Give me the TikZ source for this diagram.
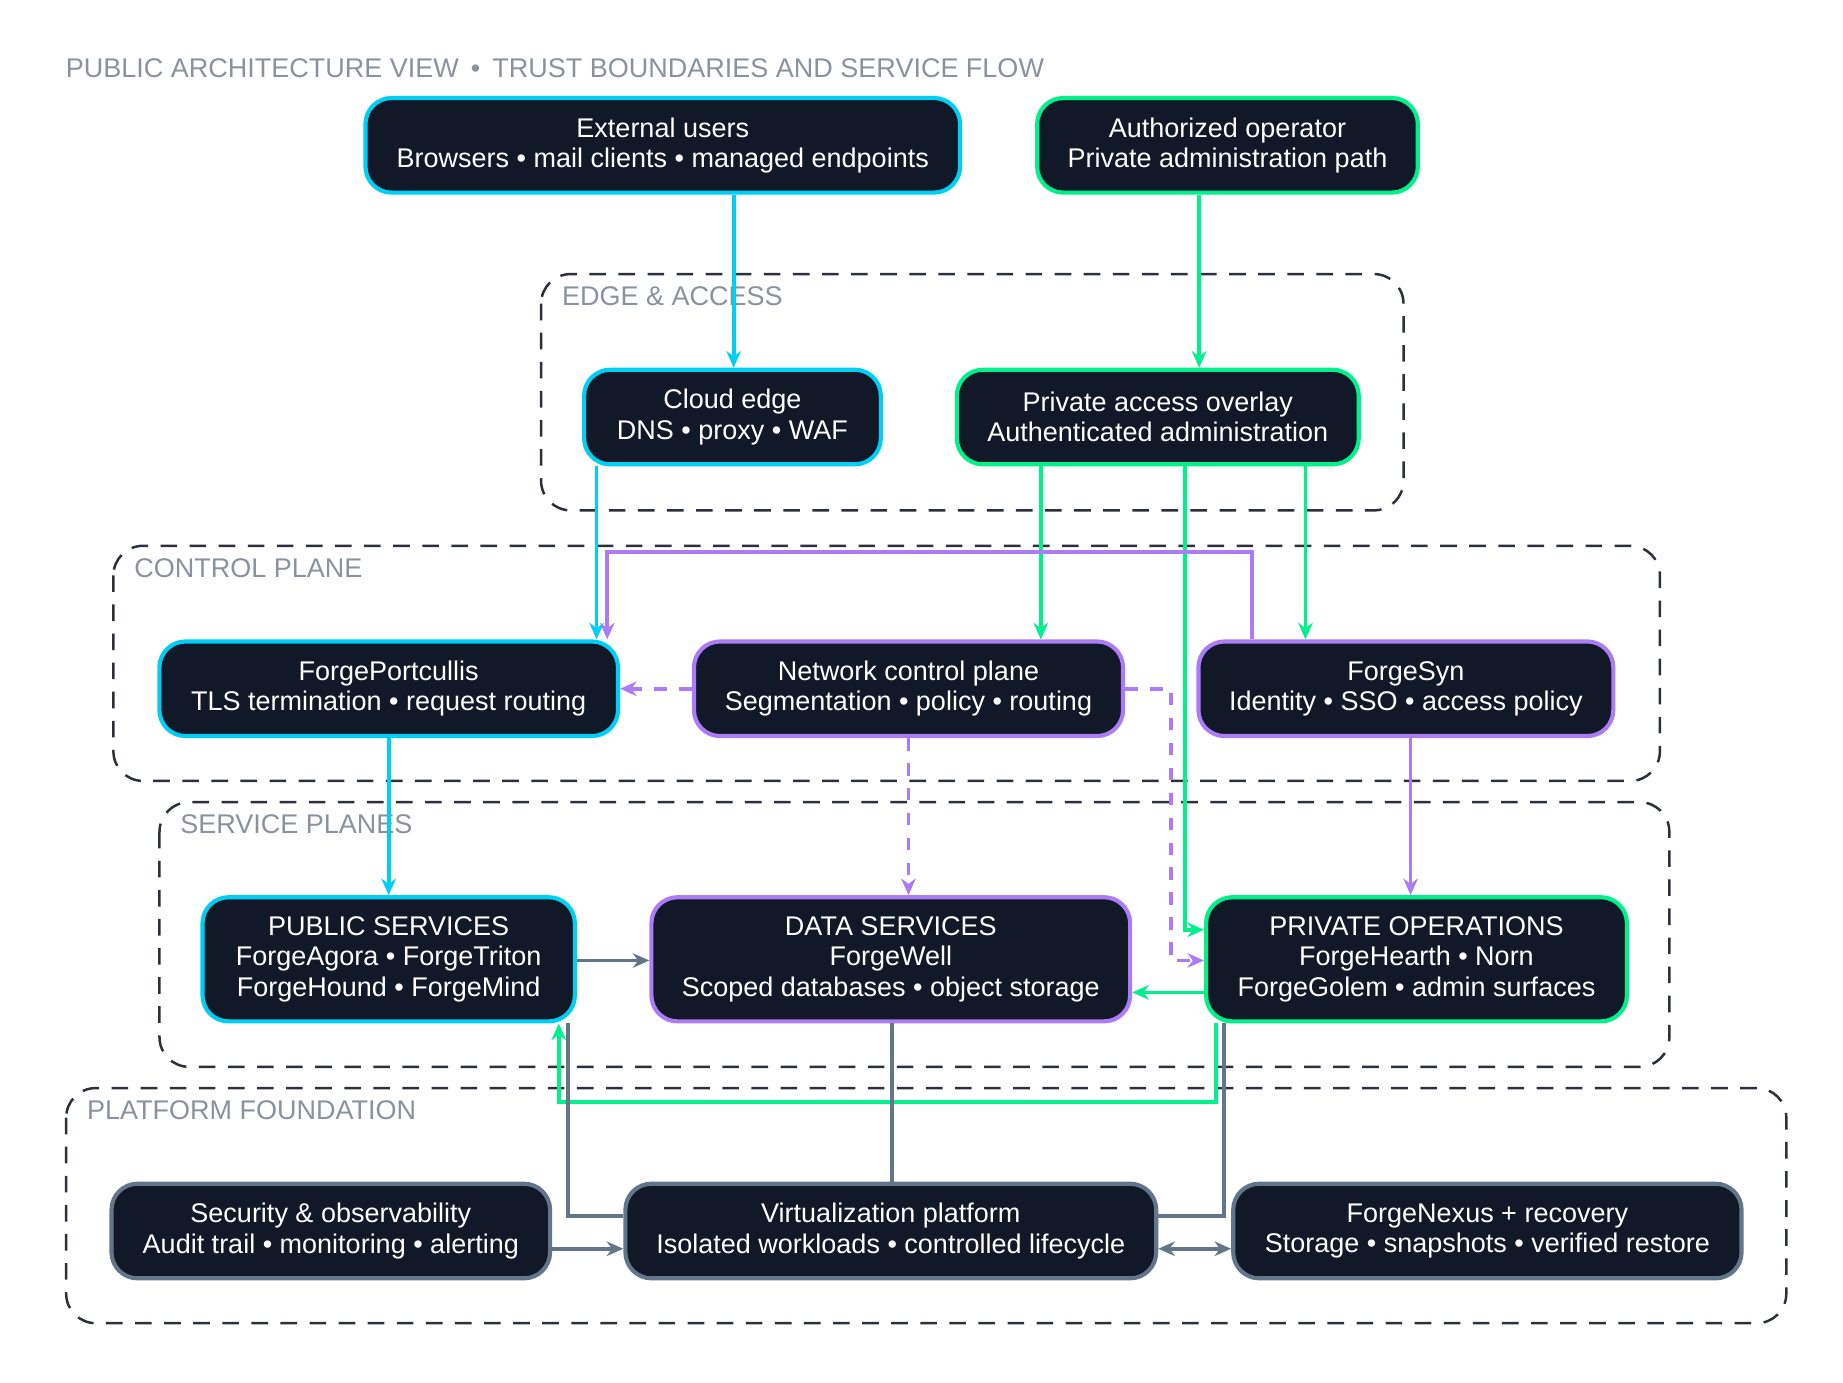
\documentclass[tikz,border=0pt]{standalone}
\usepackage{fontspec}
\setmainfont{Liberation Sans}
\usetikzlibrary{arrows.meta, calc}
\definecolor{boxfill}{HTML}{111827}
\definecolor{cyanline}{HTML}{00CFF5}
\definecolor{greenline}{HTML}{00F08C}
\definecolor{purpleline}{HTML}{AC7CF6}
\definecolor{grayline}{HTML}{64748B}
\definecolor{zoneline}{HTML}{2B303B}
\definecolor{zonetext}{HTML}{8A929E}
\tikzset{
  box/.style = {draw, line width=1pt, fill=boxfill, rounded corners=0.22cm,
    text=white, align=center, inner sep=0pt, minimum height=0.8cm,
    font=\fontsize{6.5}{7.3}\selectfont},
  cyanbox/.style = {box, draw=cyanline},
  greenbox/.style = {box, draw=greenline},
  purplebox/.style = {box, draw=purpleline},
  graybox/.style = {box, draw=grayline},
  zone/.style = {draw=zoneline, dashed, dash pattern=on 4pt off 3pt,
    line width=0.6pt, rounded corners=0.25cm},
  zonelabel/.style = {text=zonetext, anchor=west, inner sep=0pt,
    font=\fontsize{6.5}{7.3}\selectfont},
  flow/.style = {line width=0.9pt, -{Stealth[length=4pt,width=3.5pt]}},
}
\begin{document}
\begin{tikzpicture}[x=0.01cm, y=-0.01cm]
\useasboundingbox (0,0) rectangle (1560,1170);
\node[zonelabel] (title) at (55,58) {PUBLIC ARCHITECTURE VIEW \,•\, TRUST BOUNDARIES AND SERVICE FLOW};

% trust zones
\draw[zone] (458,232) rectangle (1188,432);
\node[zonelabel] (edgelbl) at (475,251) {EDGE \& ACCESS};
\draw[zone] (96,462) rectangle (1405,661);
\node[zonelabel] (ctrllbl) at (113,481) {CONTROL PLANE};
\draw[zone] (135,679) rectangle (1413,903);
\node[zonelabel] (svclbl) at (152,698) {SERVICE PLANES};
\draw[zone] (56,921) rectangle (1512,1120);
\node[zonelabel] (platlbl) at (73,940) {PLATFORM FOUNDATION};

% nodes
\node[cyanbox, minimum width=5.03cm] (ext) at (561,123) {External users\\Browsers • mail clients • managed endpoints};
\node[greenbox, minimum width=3.22cm] (oper) at (1039,123) {Authorized operator\\Private administration path};
\node[cyanbox, minimum width=2.51cm] (cloud) at (620,353) {Cloud edge\\DNS • proxy • WAF};
\node[greenbox, minimum width=3.4cm] (overlay) at (980,353) {Private access overlay\\Authenticated administration};
\node[cyanbox, minimum width=3.88cm] (portc) at (329,583) {ForgePortcullis\\TLS termination • request routing};
\node[purplebox, minimum width=3.63cm] (netcp) at (769,583) {Network control plane\\Segmentation • policy • routing};
\node[purplebox, minimum width=3.51cm] (syn) at (1190,583) {ForgeSyn\\Identity • SSO • access policy};
\node[cyanbox, minimum width=3.15cm, minimum height=1.05cm] (pubsvc) at (329,812) {PUBLIC SERVICES\\ForgeAgora • ForgeTriton\\ForgeHound • ForgeMind};
\node[purplebox, minimum width=4.05cm, minimum height=1.05cm] (datasvc) at (754,812) {DATA SERVICES\\ForgeWell\\Scoped databases • object storage};
\node[greenbox, minimum width=3.56cm, minimum height=1.05cm] (privops) at (1199,812) {PRIVATE OPERATIONS\\ForgeHearth • Norn\\ForgeGolem • admin surfaces};
\node[graybox, minimum width=3.71cm] (secobs) at (280,1042) {Security \& observability\\Audit trail • monitoring • alerting};
\node[graybox, minimum width=4.49cm] (virt) at (754,1042) {Virtualization platform\\Isolated workloads • controlled lifecycle};
\node[graybox, minimum width=4.3cm] (nexus) at (1259,1042) {ForgeNexus + recovery\\Storage • snapshots • verified restore};

% cyan path
\draw[flow, cyanline] (ext.south -| 621,0) -- (cloud.north -| 621,0);
\draw[flow, cyanline] (cloud.south -| 505,0) -- (portc.north -| 505,0);
\draw[flow, cyanline] (portc.south) -- (pubsvc.north);

% green path
\draw[flow, greenline] (oper.south -| 1015,0) -- (overlay.north -| 1015,0);
\draw[flow, greenline] (overlay.south -| 881,0) -- (netcp.north -| 881,0);
\draw[flow, greenline] (overlay.south -| 1105,0) -- (syn.north -| 1105,0);
\draw[flow, greenline] (overlay.south -| 1003,0) -- (1003,787) -- (privops.west |- 0,787);
\draw[flow, greenline] (privops.west |- 0,840) -- (datasvc.east |- 0,840);
\draw[flow, greenline] (privops.south -| 1029,0) -- (1029,933) -- (473,933) -- (pubsvc.south -| 473,0);

% purple path
\draw[flow, purpleline] (syn.north -| 1060,0) -- (1060,467) -- (514,467) -- (portc.north -| 514,0);
\draw[flow, purpleline, dashed] (netcp.west) -- (portc.east);
\draw[flow, purpleline, dashed] (netcp.east) -- (991,583) -- (991,813) -- (privops.west |- 0,813);
\draw[flow, purpleline, dashed] (netcp.south) -- (datasvc.north -| netcp.south);
\draw[flow, purpleline] (syn.south -| 1194,0) -- (privops.north -| 1194,0);

% platform links
\draw[flow, grayline] (pubsvc.east |- 0,813) -- (datasvc.west |- 0,813);
\draw[line width=0.9pt, grayline] (datasvc.south -| 755,0) -- (virt.north -| 755,0);
\draw[line width=0.9pt, grayline] (virt.west |- 0,1029) -- (481,1029) -- (pubsvc.south -| 481,0);
\draw[line width=0.9pt, grayline] (virt.east |- 0,1029) -- (1036,1029) -- (privops.south -| 1036,0);
\draw[flow, grayline] (secobs.east |- 0,1057) -- (virt.west |- 0,1057);
\draw[flow, grayline, {Stealth[length=4pt,width=3.5pt]}-{Stealth[length=4pt,width=3.5pt]}] (virt.east |- 0,1057) -- (nexus.west |- 0,1057);
\end{tikzpicture}
\end{document}
